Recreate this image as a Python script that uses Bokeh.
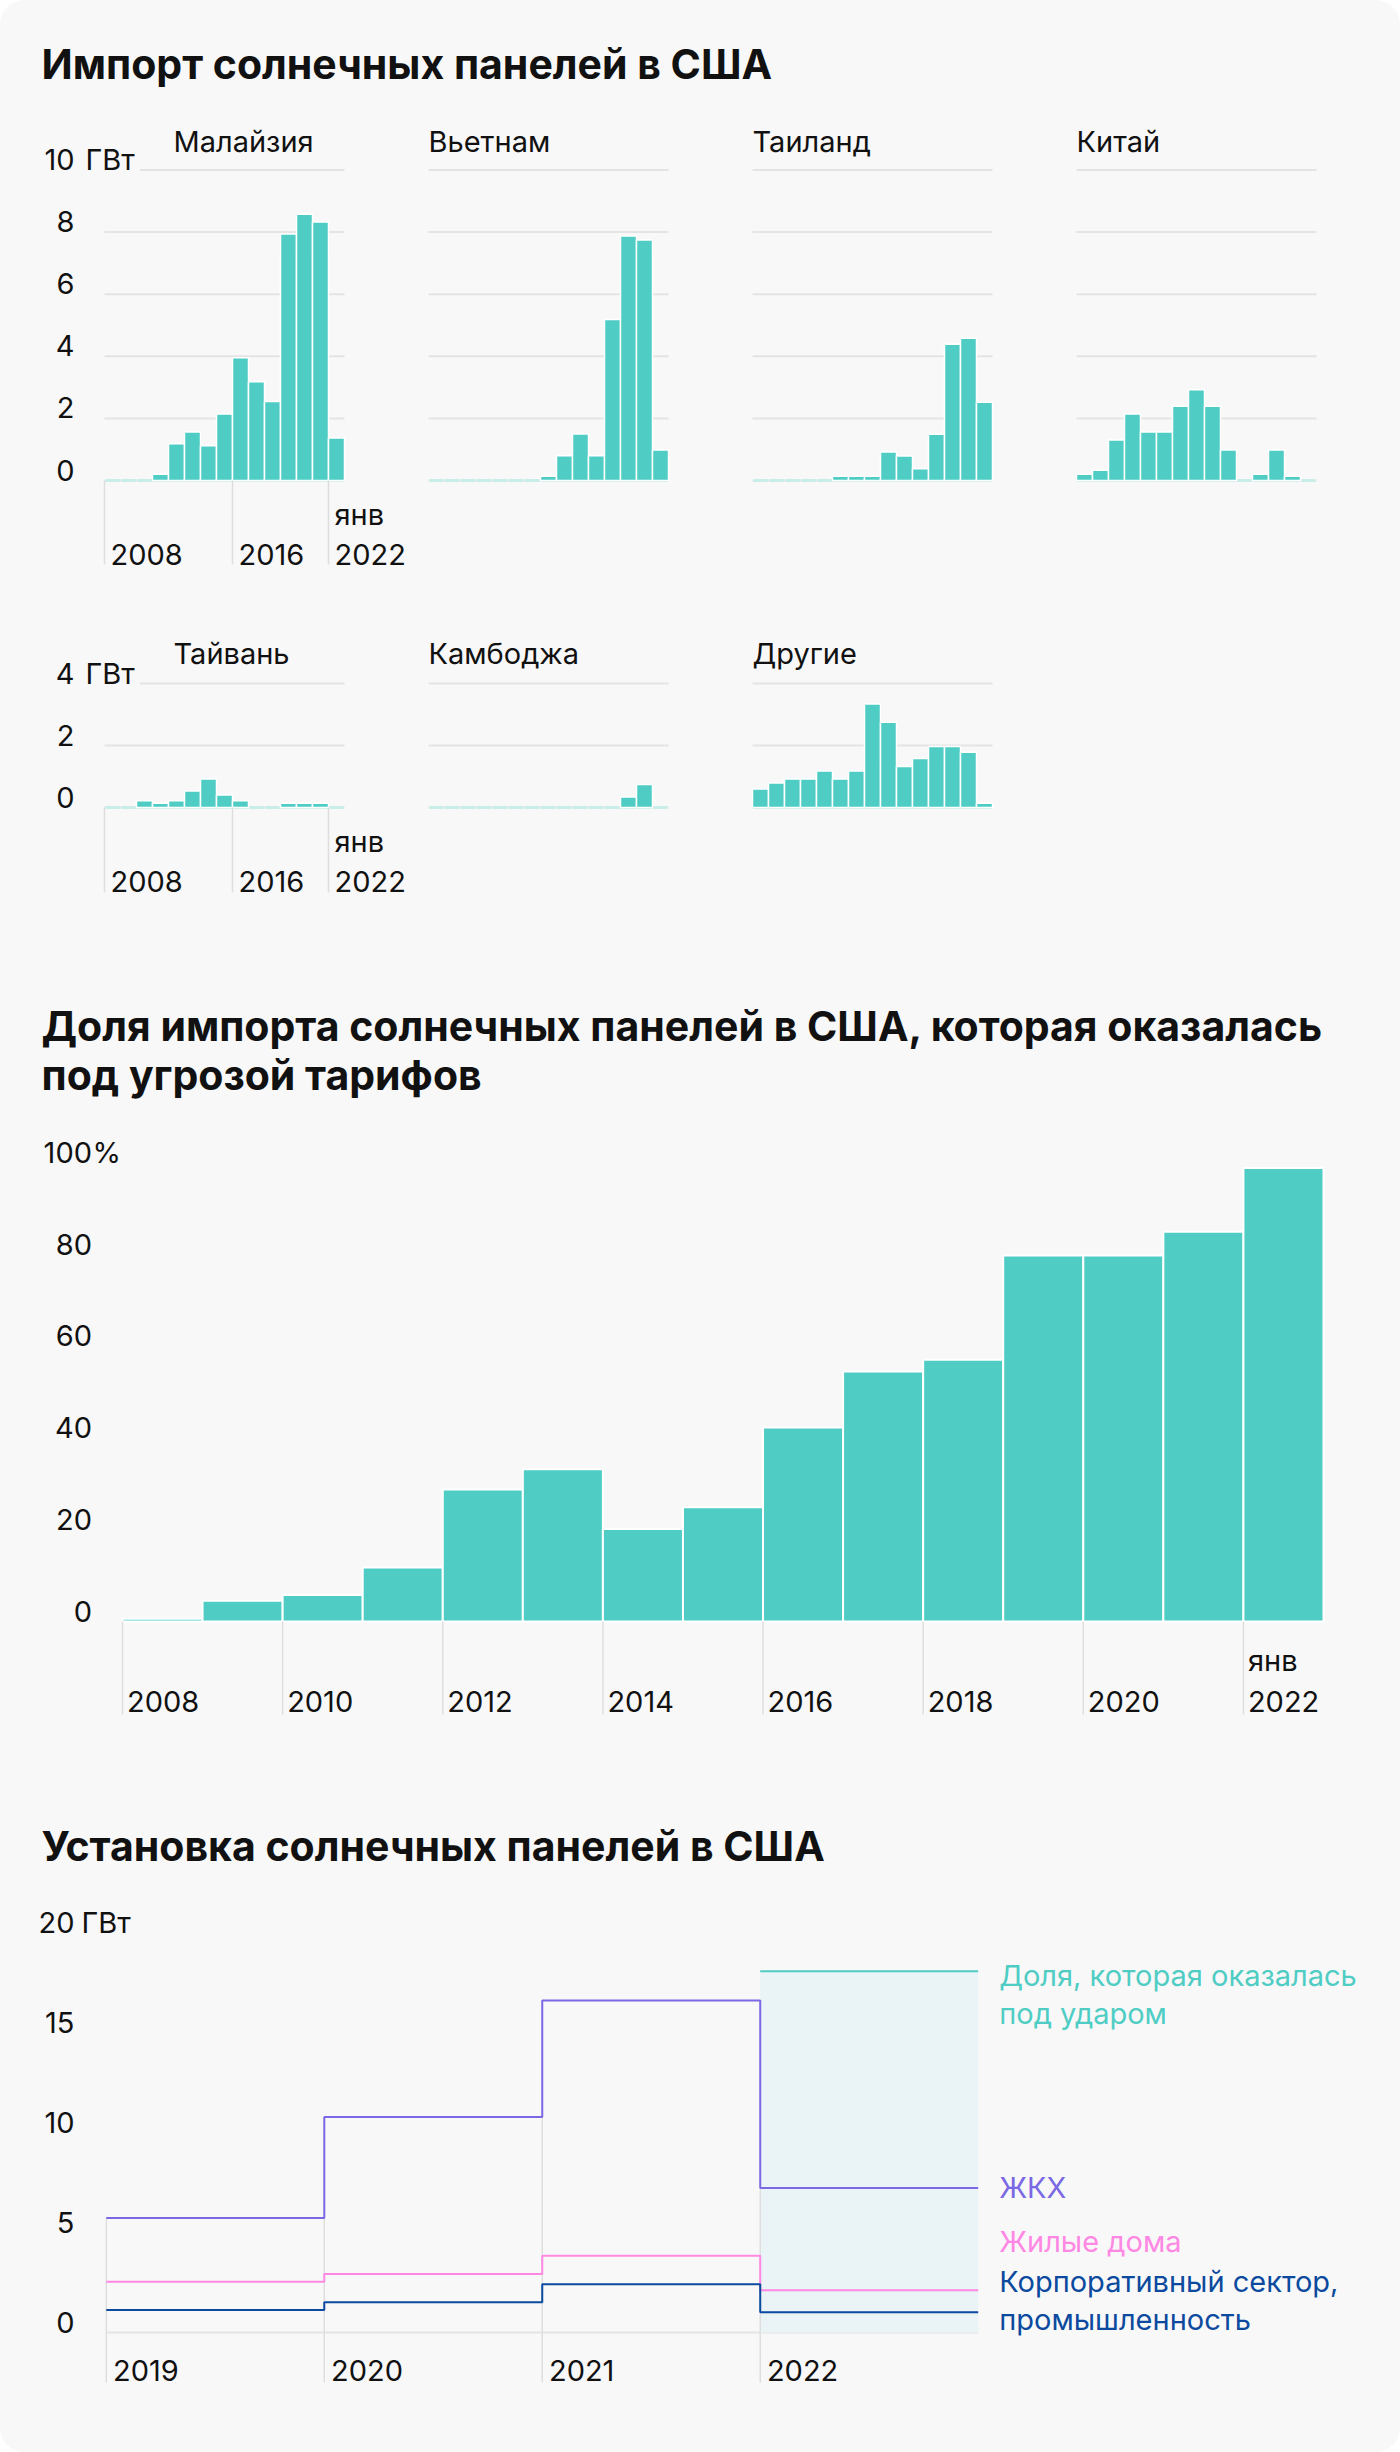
import math
from bokeh.plotting import figure
from bokeh.layouts import column, row
from bokeh.models import Range1d, Label, Spacer
from bokeh.embed import file_html
from bokeh.resources import INLINE

# ---------------- data ----------------
years = list(range(2008, 2023))
malaysia = [0, 0, 0, 0.2, 1.18, 1.56, 1.12, 2.14, 3.95, 3.18, 2.54, 7.94, 8.57, 8.32, 1.37]
vietnam = [0, 0, 0, 0, 0, 0, 0, 0.14, 0.8, 1.5, 0.8, 5.18, 7.87, 7.74, 0.98]
thailand = [0, 0, 0, 0, 0, 0.14, 0.14, 0.14, 0.92, 0.79, 0.38, 1.49, 4.39, 4.58, 2.52]
china = [0.2, 0.33, 1.3, 2.14, 1.56, 1.56, 2.39, 2.92, 2.39, 0.98, 0, 0.2, 0.98, 0.14, 0]
taiwan = [0, 0, 0.22, 0.14, 0.22, 0.53, 0.92, 0.4, 0.22, 0, 0, 0.14, 0.14, 0.14, 0]
cambodia = [0, 0, 0, 0, 0, 0, 0, 0, 0, 0, 0, 0, 0.34, 0.74, 0]
others = [0.6, 0.79, 0.92, 0.92, 1.18, 0.92, 1.18, 3.34, 2.75, 1.32, 1.58, 1.97, 1.97, 1.78, 0.14]

share_years = list(range(2008, 2023))
share_pct = [0.6, 4.5, 5.8, 11.8, 28.8, 33.2, 20.2, 24.9, 42.3, 54.5, 57.1, 79.8, 79.8, 85.0, 98.9]

inst_years = [2019, 2020, 2021, 2022]
utility = [5.73, 10.78, 16.6, 7.22]
residential = [2.54, 2.93, 3.84, 2.11]
commercial = [1.12, 1.51, 2.41, 1.01]
risk_years = [2022]
at_risk = [18.06]

row1_ticks = [0, 2, 4, 6, 8, 10]
row2_ticks = [0, 2, 4]
panel_xticks = [2008, 2016, 2022]
panel_xlabels = ["2008", "2016", "2022"]
share_yticks = [0, 20, 40, 60, 80, 100]
share_xticks = [2008, 2010, 2012, 2014, 2016, 2018, 2020, 2022]
inst_yticks = [0, 5, 10, 15, 20]

title1 = "Импорт солнечных панелей в США"
title2 = ["Доля импорта солнечных панелей в США, которая оказалась", "под угрозой тарифов"]
title3 = "Установка солнечных панелей в США"

# ---------------- style ----------------
CARD = "#f8f8f8"
TEAL = "#4fcdc4"
LIGHT = "#c9eeea"
GRID = "#e4e4e4"
TICK = "#dedede"
TXT = "#111111"
PURPLE = "#7a68e4"
PINK = "#ff88e4"
BLUE = "#0b4a9e"
SHADE = "#eaf3f5"
FONT = "Inter"
FS = 29
TFS = 41
DOWN = -math.pi / 2
BASE_SHIFT = 0.36  # em fraction used to sit text on its baseline


def make_fig(w, h, box, xlim, ylim):
    """Figure whose frame is the whole canvas; data box (l, t, r, b) in canvas px."""
    l, t, r, b = box
    x0, x1 = xlim
    y0, y1 = ylim
    ppx = (r - l) / (x1 - x0)
    ppy = (b - t) / (y1 - y0)
    xr = Range1d(x0 - l / ppx, x1 + (w - r) / ppx)
    yr = Range1d(y0 - (h - b) / ppy, y1 + t / ppy)
    p = figure(width=w, height=h, x_range=xr, y_range=yr, output_backend="svg",
               toolbar_location=None, x_axis_location=None, y_axis_location=None,
               min_border=0)
    p.grid.visible = False
    p.background_fill_color = None
    p.border_fill_color = None
    p.outline_line_color = None
    return p


def text(p, s, x, y, xu="screen", yu="screen", size=FS, color=TXT, align="left",
         bold=False, xo=0, yo=0, bg=None, pad=0):
    lab = Label(x=x, y=y, x_units=xu, y_units=yu, text=s, text_font=FONT,
                text_font_size=f"{size}px", text_color=color, text_align=align,
                text_baseline="alphabetic", text_font_style="bold" if bold else "normal",
                x_offset=xo, y_offset=yo + BASE_SHIFT * size)
    if bg is not None:
        lab.background_fill_color = bg
        lab.padding = pad
    p.add_layout(lab)


def panel(name, vals, ticks, w, h, l, r, t, b, first, title_y, tick_len, yr_y, jan_y):
    x0, x1 = years[0], years[-1] + 1
    p = make_fig(w, h, (l, t, r, b), (x0, x1), (0, ticks[-1]))
    p.segment(x0=x0, x1=x1, y0=ticks, y1=ticks, line_color=GRID, line_width=2)
    p.rect(x=[y + 0.5 for y in years], y=0, width=0.9, height=3, height_units="screen",
           fill_color=LIGHT, line_color=None)
    nz = [(y, v) for y, v in zip(years, vals) if v > 0]
    p.quad(left=[y for y, _ in nz], right=[y + 1 for y, _ in nz], bottom=0,
           top=[v for _, v in nz], fill_color=TEAL, line_color="white", line_width=1.5)
    text(p, name, x0, title_y, xu="data", xo=69 if first else 0)
    if first:
        for tk in ticks:
            text(p, str(tk), 74, tk, yu="data", align="right")
        text(p, "ГВт", 80, ticks[-1], yu="data", bg=CARD, pad=5)
        p.ray(x=panel_xticks, y=0, length=tick_len, length_units="screen", angle=DOWN,
              line_color=TICK, line_width=1.5)
        for tk, lab in zip(panel_xticks, panel_xlabels):
            text(p, lab, tk, yr_y, xu="data", xo=6)
        text(p, "янв", panel_xticks[-1], jan_y, xu="data", xo=6)
    return p


# ---------------- title 1 ----------------
t1 = make_fig(1400, 110, (0, 0, 1400, 110), (0, 1), (0, 1))
text(t1, title1, 41, 31.6, size=TFS, bold=True)

# ---------------- row 1 (y 110..590) ----------------
R1H, R1T, R1B = 480, 59.4, 370
p_mal = panel("Малайзия", malaysia, row1_ticks, 416, R1H, 104, 344, R1T, R1B, True, 439, 84, 26, 66)
p_vie = panel("Вьетнам", vietnam, row1_ticks, 294, R1H, 12, 252, R1T, R1B, False, 439, 0, 0, 0)
p_tha = panel("Таиланд", thailand, row1_ticks, 324, R1H, 42, 282, R1T, R1B, False, 439, 0, 0, 0)
p_chi = panel("Китай", china, row1_ticks, 324, R1H, 42, 282, R1T, R1B, False, 439, 0, 0, 0)
row1 = row(p_mal, p_vie, p_tha, p_chi, Spacer(width=42, height=R1H))

# ---------------- row 2 (y 590..920) ----------------
R2H, R2T, R2B = 330, 93, 217
p_tai = panel("Тайвань", taiwan, row2_ticks, 416, R2H, 104, 344, R2T, R2B, True, 257, 85, 28.3, 68.3)
p_cam = panel("Камбоджа", cambodia, row2_ticks, 294, R2H, 12, 252, R2T, R2B, False, 257, 0, 0, 0)
p_oth = panel("Другие", others, row2_ticks, 324, R2H, 42, 282, R2T, R2B, False, 257, 0, 0, 0)
row2 = row(p_tai, p_cam, p_oth, Spacer(width=366, height=R2H))

# ---------------- section 2 (y 920..1760) ----------------
s2 = make_fig(1400, 840, (122, 242.5, 1323, 701),
              (share_years[0], share_years[-1] + 1), (0, 100))
text(s2, title2[0], 41, 719.6, size=TFS, bold=True)
text(s2, title2[1], 41, 670.5, size=TFS, bold=True)
s2.quad(left=share_years, right=[y + 1 for y in share_years], bottom=0, top=share_pct,
        fill_color=TEAL, line_color="white", line_width=2)
s2.ray(x=share_xticks, y=0, length=93, length_units="screen", angle=DOWN,
       line_color=TICK, line_width=1.5)
for tk in share_xticks:
    text(s2, str(tk), tk, 49, xu="data", xo=4.5)
text(s2, "янв", share_xticks[-1], 90, xu="data", xo=4.5)
for tk in share_yticks:
    text(s2, str(tk), 91.5, tk, yu="data", align="right")
text(s2, "%", 92, share_yticks[-1], yu="data")

# ---------------- section 3 (y 1760..2452) ----------------
s3 = make_fig(1400, 692, (105.8, 172, 977.7, 572),
              (inst_years[0], inst_years[-1] + 1), (0, 20))
text(s3, title3, 41, 591.4, size=TFS, bold=True)
s3.segment(x0=inst_years[0], x1=inst_years[-1] + 1, y0=0, y1=0, line_color=GRID, line_width=2)
s3.quad(left=risk_years, right=[y + 1 for y in risk_years], bottom=0, top=at_risk,
        fill_color=SHADE, line_color=None)
drop_top = [min(utility[max(i - 1, 0)], utility[i]) for i in range(len(inst_years))]
s3.segment(x0=inst_years, x1=inst_years, y0=0, y1=drop_top, line_color=TICK, line_width=1.5)
s3.ray(x=inst_years, y=0, length=50, length_units="screen", angle=DOWN,
       line_color=TICK, line_width=1.5)
for vals, col in ((utility, PURPLE), (residential, PINK), (commercial, BLUE)):
    s3.step(x=inst_years + [inst_years[-1] + 1], y=vals + [vals[-1]], mode="after",
            line_color=col, line_width=2)
s3.segment(x0=risk_years, x1=[y + 1 for y in risk_years], y0=at_risk, y1=at_risk,
           line_color=TEAL, line_width=2)
for tk in inst_years:
    text(s3, str(tk), tk, 72, xu="data", xo=6.7)
for tk in inst_yticks:
    text(s3, str(tk), 74, tk, yu="data", align="right")
text(s3, "ГВт", 81, inst_yticks[-1], yu="data")

lx = inst_years[-1] + 1
legend_items = [
    ("Доля, которая оказалась", at_risk[-1], -15, TEAL),
    ("под ударом", at_risk[-1], -53, TEAL),
    ("ЖКХ", utility[-1], -10, PURPLE),
    ("Жилые дома", residential[-1], 38, PINK),
    ("Корпоративный сектор,", commercial[-1], 20, BLUE),
    ("промышленность", commercial[-1], -18, BLUE),
]
for s, yv, off, col in legend_items:
    text(s3, s, lx, yv, xu="data", yu="data", xo=21, yo=off, color=col)

layout = column(t1, row1, row2, s2, s3,
                styles={"background-color": CARD, "border-radius": "24px"})

with open("out.html", "w") as f:
    f.write(file_html(layout, INLINE))
